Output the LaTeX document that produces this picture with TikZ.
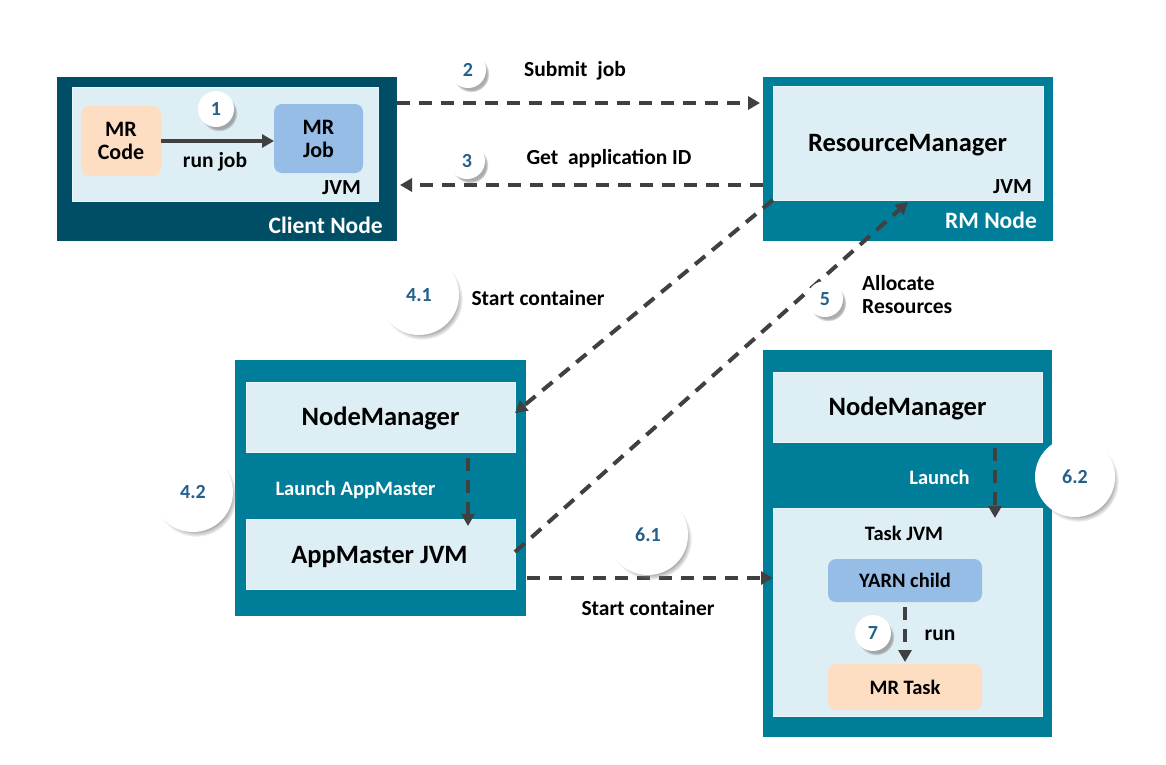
\documentclass[tikz,border=0pt]{standalone}
\usepackage{fontspec}
\setmainfont{Carlito}
\usetikzlibrary{arrows.meta,shadows,calc}
\definecolor{darkteal}{RGB}{0,77,102}
\definecolor{tealframe}{RGB}{0,126,153}
\definecolor{lightbox}{RGB}{221,238,245}
\definecolor{peach}{RGB}{253,222,194}
\definecolor{jobblue}{RGB}{149,189,230}
\definecolor{numblue}{RGB}{36,96,140}
\definecolor{arrowgray}{RGB}{64,64,64}
\newcommand{\fsz}[2]{\fontsize{#1}{#2}\selectfont}
\tikzset{
  frame/.style={inner sep=0pt, outer sep=0pt, draw=none},
  jvmbox/.style={frame, fill=lightbox, draw=lightbox!60!white, line width=0.8pt},
  rbox/.style={frame, rounded corners=8pt, align=center, font=\bfseries\fsz{22}{23}},
  lbl/.style={inner sep=0pt, font=\bfseries\fsz{21.5}{25}},
  biglbl/.style={inner sep=0pt, font=\bfseries\fsz{26.5}{30}},
  hostlbl/.style={inner sep=0pt, text=white, font=\bfseries\fsz{23.5}{27}},
  numcirc/.style={circle, fill=white, inner sep=0pt, text=numblue,
    font=\bfseries\fsz{20}{24},
    circular drop shadow={shadow scale=1.02, shadow xshift=3pt, shadow yshift=-4pt, opacity=0.65}},
  numsmall/.style={numcirc, minimum size=36pt},
  numbig/.style={numcirc, minimum size=80pt},
  flow/.style={draw=arrowgray, line width=4pt, dash pattern=on 13pt off 9pt,
    -{Triangle[length=12pt,width=13pt]}},
  solidflow/.style={draw=arrowgray, line width=4pt, -{Triangle[length=12pt,width=13pt]}},
}
\begin{document}
\begin{tikzpicture}[x=1pt,y=-1pt]
\useasboundingbox (0,0) rectangle (1166,764);
\fill[white] (0,0) rectangle (1166,764);

% Client node
\node[frame, fill=darkteal, minimum width=340pt, minimum height=164pt] (client) at (227,159) {};
\node[jvmbox, minimum width=306pt, minimum height=114pt] (clientjvm) at (225,144) {};
\node[rbox, fill=peach, minimum width=80pt, minimum height=70pt] (mrcode) at (121,141) {MR\\Code};
\node[rbox, fill=jobblue, minimum width=89pt, minimum height=69pt] (mrjob) at (318.5,138.5) {MR\\Job};
\node[lbl, anchor=east] (clientjvmlbl) at (361,188) {JVM};
\node[hostlbl, anchor=east] (clientlbl) at (383,225) {Client Node};
\node[lbl] (runjob) at (215,162) {run job};

% RM node
\node[frame, fill=tealframe, minimum width=290pt, minimum height=164pt] (rm) at (908,159) {};
\node[jvmbox, minimum width=270pt, minimum height=114pt] (rmjvm) at (908,143) {};
\node[biglbl] (rmlbl) at (907.5,145) {ResourceManager};
\node[lbl, anchor=east] (rmjvmlbl) at (1032,187) {JVM};
\node[hostlbl, anchor=east] (rmnodelbl) at (1037,220) {RM Node};

% Left host
\node[frame, fill=tealframe, minimum width=291pt, minimum height=256pt] (host1) at (380.5,488) {};
\node[jvmbox, minimum width=269pt, minimum height=70pt] (nm1) at (380.5,417) {};
\node[biglbl] (nm1lbl) at (380.5,418) {NodeManager};
\node[jvmbox, minimum width=269pt, minimum height=70pt] (am) at (380.5,554) {};
\node[biglbl] (amlbl) at (379.5,557) {AppMaster JVM};
\node[lbl, text=white, font=\bfseries\fsz{20.5}{24}] (launcham) at (355.5,490) {Launch AppMaster};

% Right host
\node[frame, fill=tealframe, minimum width=289pt, minimum height=387pt] (host2) at (907.5,543.5) {};
\node[jvmbox, minimum width=269pt, minimum height=70pt] (nm2) at (907.5,407) {};
\node[biglbl] (nm2lbl) at (907.5,408) {NodeManager};
\node[jvmbox, minimum width=269pt, minimum height=208pt] (tjvm) at (907.5,612) {};
\node[lbl, text=white, font=\bfseries\fsz{20.5}{24}] (launchlbl) at (939.5,477) {Launch};
\node[lbl, font=\bfseries\fsz{20.5}{24}] (tjvmlbl) at (904,533) {Task JVM};
\node[rbox, fill=jobblue, minimum width=154pt, minimum height=43pt, font=\bfseries\fsz{20.5}{24}] (yarn) at (905,580.5) {YARN child};
\node[rbox, fill=peach, minimum width=154pt, minimum height=46pt, font=\bfseries\fsz{20.5}{24}] (mrtask) at (905,687) {MR Task};
\node[lbl] (runlbl) at (940,635) {run};

% free labels
\node[lbl] (submitlbl) at (575,71) {Submit\ \ job};
\node[lbl] (getidlbl) at (609,159) {Get\ \ application ID};
\node[lbl] (start1lbl) at (538,298) {Start container};
\node[lbl, anchor=west, align=left, font=\bfseries\fsz{21.5}{23}] (alloclbl) at (862,295) {Allocate\\Resources};
\node[lbl] (start2lbl) at (648,608) {Start container};

% connectors
\draw[solidflow] (mrcode.east) -- (mrcode.east -| mrjob.west);
\draw[flow] ([yshift=56pt]client.east) -- ([yshift=56pt,xshift=-3pt]rm.west);
\draw[flow] ([yshift=-26pt]rm.west) -- ([yshift=-26pt,xshift=3pt]client.east);
\draw[flow] (rmjvm.south west) -- ([yshift=4pt]nm1.east);
\draw[flow] ([yshift=2pt]am.east) -- ([yshift=-2pt]rmjvm.south);
\draw[flow] ([xshift=87.5pt,yshift=-6pt]nm1.south) -- ([xshift=87.5pt,yshift=-7pt]am.north);
\draw[flow] ([xshift=87.5pt,yshift=-6pt]nm2.south) -- ([xshift=87.5pt,yshift=-10pt]tjvm.north);
\draw[flow] ([yshift=-90pt,xshift=1pt]host1.east) -- ([yshift=34pt]tjvm.west);
\draw[flow] ([yshift=-5pt]yarn.south) -- ([yshift=2pt]mrtask.north);

% step circles
\node[numsmall] (c1) at (216,109) {1};
\node[numsmall] (c2) at (468,70) {2};
\node[numsmall] (c3) at (467,161) {3};
\node[numsmall] (c5) at (825,299) {5};
\node[numsmall] (c7) at (873,633) {7};
\node[numbig] (c41) at (419,295) {4.1};
\node[numbig] (c42) at (193,492) {4.2};
\node[numbig] (c61) at (648,535) {6.1};
\node[numbig] (c62) at (1075,477) {6.2};
\end{tikzpicture}
\end{document}
